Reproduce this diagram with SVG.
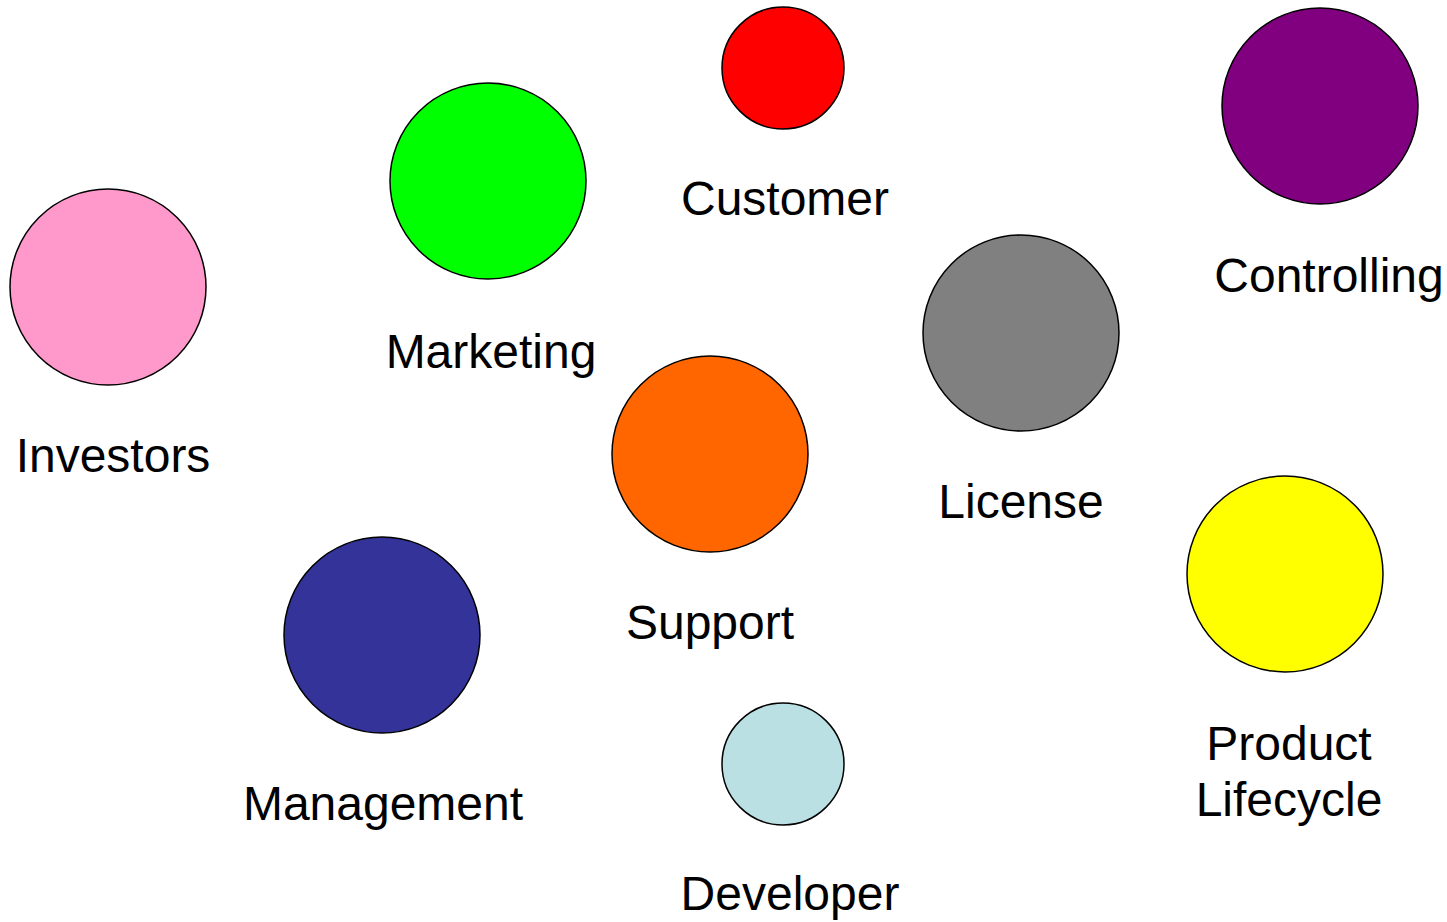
<svg xmlns="http://www.w3.org/2000/svg" width="1447" height="922" viewBox="0 0 1447 922">
<style>
circle{stroke:#000;stroke-width:1.5}
text{font-family:"Liberation Sans",Arial,sans-serif;font-size:48px;fill:#000;text-anchor:middle}
</style>
<rect width="1447" height="922" fill="#fff"/>
<g id="connectors"/>
<g id="customer"><circle cx="783" cy="68" r="61" fill="#ff0000"/><text x="785" y="215">Customer</text></g>
<g id="marketing"><circle cx="488" cy="181" r="98" fill="#00ff00"/><text x="491" y="368">Marketing</text></g>
<g id="controlling"><circle cx="1320" cy="106" r="98" fill="#800080"/><text x="1329" y="292">Controlling</text></g>
<g id="investors"><circle cx="108" cy="287" r="98" fill="#ff99cc"/><text x="113" y="472">Investors</text></g>
<g id="license"><circle cx="1021" cy="333" r="98" fill="#808080"/><text x="1021" y="518">License</text></g>
<g id="support"><circle cx="710" cy="454" r="98" fill="#ff6600"/><text x="710" y="639">Support</text></g>
<g id="management"><circle cx="382" cy="635" r="98" fill="#333399"/><text x="383" y="820">Management</text></g>
<g id="product-lifecycle"><circle cx="1285" cy="574" r="98" fill="#ffff00"/><text x="1289" y="760">Product</text><text x="1289" y="816">Lifecycle</text></g>
<g id="developer"><circle cx="783" cy="764" r="61" fill="#bbe0e3"/><text x="790" y="910">Developer</text></g>
</svg>
